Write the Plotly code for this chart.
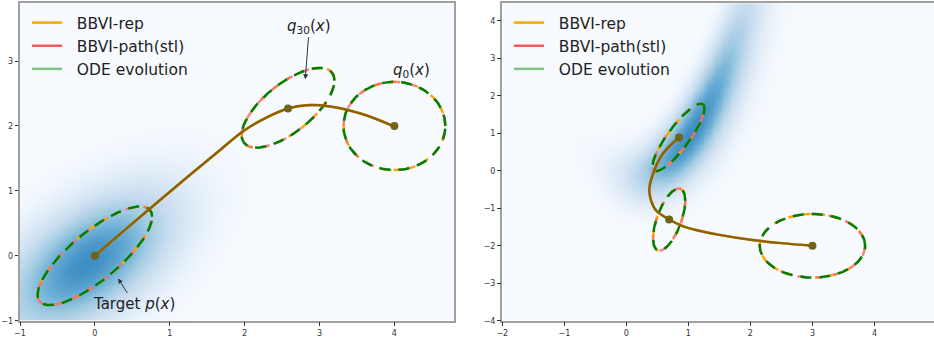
import numpy as np
import plotly.graph_objects as go

# ---------------- data ----------------
# Left panel: mean trajectory of q_t and its markers
L_traj_x = [4.0, 3.58, 3.14, 2.83, 2.58, 2.29, 1.98, 1.6, 1.2, 0.8, 0.4, 0.0]
L_traj_y = [1.99, 2.18, 2.30, 2.32, 2.27, 2.13, 1.92, 1.56, 1.18, 0.79, 0.40, 0.0]
L_mark_x = [4.0, 2.58, 0.0]
L_mark_y = [2.0, 2.27, 0.0]
# Left panel ellipses: q0, q30, target  (center, std x, std y, correlation)
L_ell_cx = [4.0, 2.58, 0.0]
L_ell_cy = [2.0, 2.28, 0.0]
L_ell_sx = [0.68, 0.62, 0.765]
L_ell_sy = [0.68, 0.615, 0.76]
L_ell_rho = [0.0, 0.68, 0.79]

# Right panel
R_traj_x = [3.0, 2.5, 2.0, 1.5, 1.12, 0.9, 0.69, 0.48, 0.40, 0.37, 0.43, 0.59, 0.85]
R_traj_y = [-2.0, -1.93, -1.84, -1.71, -1.58, -1.47, -1.30, -1.06, -0.80, -0.50, -0.08, 0.46, 0.89]
R_mark_x = [3.0, 0.69, 0.85]
R_mark_y = [-2.0, -1.30, 0.89]
R_ell_cx = [3.0, 0.69, 0.84]
R_ell_cy = [-2.0, -1.30, 0.89]
R_ell_sx = [0.85, 0.26, 0.42]
R_ell_sy = [0.85, 0.83, 0.90]
R_ell_rho = [0.0, 0.6, 0.86]

# Target densities (parameters)
L_mu = [-0.1, -0.1]
L_cov = [[0.60, 0.32], [0.32, 0.56]]
R_ban_xmean, R_ban_xstd = 1.05, 0.68
R_ban_a, R_ban_c = 1.05, -0.15
R_ban_s0, R_ban_s1 = 0.55, 0.2

legend_names = ["BBVI-rep", "BBVI-path(stl)", "ODE evolution"]
legend_colors = ["#ffa500", "rgba(255,60,60,0.85)", "rgba(80,170,80,0.7)"]

L_xrange = [-1, 4.8]
L_yrange = [-1, 3.89]
R_xrange = [-2, 4.96]
R_yrange = [-4, 4.47]

# ---------------- helpers ----------------
def ellipse(cx, cy, sx, sy, rho, phase=0.0, n=240):
    t = np.linspace(0, 2 * np.pi, n) + phase
    x = cx + sx * np.cos(t)
    y = cy + sy * (rho * np.cos(t) + np.sqrt(1 - rho ** 2) * np.sin(t))
    return x, y

blues = [[0.0, "#f7fbff"], [0.125, "#deebf7"], [0.25, "#c6dbef"], [0.375, "#9ecae1"],
         [0.5, "#6baed6"], [0.625, "#4292c6"], [0.75, "#2171b5"], [0.875, "#08519c"],
         [1.0, "#08306b"]]

fig = go.Figure()

# ---------------- densities ----------------
gx = np.linspace(L_xrange[0], L_xrange[1], 220)
gy = np.linspace(L_yrange[0], L_yrange[1], 200)
X, Y = np.meshgrid(gx, gy)
P = np.linalg.inv(np.array(L_cov))
dx, dy = X - L_mu[0], Y - L_mu[1]
ZL = np.exp(-0.5 * (P[0, 0] * dx * dx + 2 * P[0, 1] * dx * dy + P[1, 1] * dy * dy))
fig.add_trace(go.Heatmap(x=gx, y=gy, z=ZL, colorscale=blues, zmin=0, zmax=ZL.max() / 0.64,
                         showscale=False, zsmooth="best", hoverinfo="skip",
                         xaxis="x", yaxis="y"))

hx = np.linspace(R_xrange[0], R_xrange[1], 240)
hy = np.linspace(R_yrange[0], R_yrange[1], 260)
X2, Y2 = np.meshgrid(hx, hy)
sig = R_ban_s0 + R_ban_s1 * np.clip(X2, 0, None) ** 2
ZR = np.exp(-0.5 * ((X2 - R_ban_xmean) / R_ban_xstd) ** 2
            - 0.5 * ((Y2 - (R_ban_a * X2 ** 2 + R_ban_c)) / sig) ** 2)
fig.add_trace(go.Heatmap(x=hx, y=hy, z=ZR, colorscale=blues, zmin=0, zmax=ZR.max() / 0.64,
                         showscale=False, zsmooth="best", hoverinfo="skip",
                         xaxis="x2", yaxis="y2"))

# ---------------- ellipses ----------------
def add_ellipses(cxs, cys, sxs, sys_, rhos, xa, ya):
    for cx, cy, sx, sy, rho in zip(cxs, cys, sxs, sys_, rhos):
        ex, ey = ellipse(cx, cy, sx, sy, rho, phase=0.3)
        fig.add_trace(go.Scatter(x=ex, y=ey, mode="lines", showlegend=False, hoverinfo="skip",
                                 line=dict(color="#ffa500", width=2.5, dash="7px,8px"),
                                 xaxis=xa, yaxis=ya))
        ex, ey = ellipse(cx, cy, sx, sy, rho, phase=1.1)
        fig.add_trace(go.Scatter(x=ex, y=ey, mode="lines", showlegend=False, hoverinfo="skip",
                                 line=dict(color="rgba(245,110,110,0.85)", width=2.5, dash="8px,10px"),
                                 xaxis=xa, yaxis=ya))
        ex, ey = ellipse(cx, cy, sx, sy, rho, phase=0.0)
        fig.add_trace(go.Scatter(x=ex, y=ey, mode="lines", showlegend=False, hoverinfo="skip",
                                 line=dict(color="#008000", width=2.5, dash="11px,8px"),
                                 xaxis=xa, yaxis=ya))

add_ellipses(L_ell_cx, L_ell_cy, L_ell_sx, L_ell_sy, L_ell_rho, "x", "y")
add_ellipses(R_ell_cx, R_ell_cy, R_ell_sx, R_ell_sy, R_ell_rho, "x2", "y2")

# ---------------- trajectories ----------------
def add_traj(tx, ty, mx, my, xa, ya):
    for col in ["#ffa500", "rgba(255,0,0,0.4)", "rgba(0,100,0,0.45)"]:
        fig.add_trace(go.Scatter(x=tx, y=ty, mode="lines", showlegend=False, hoverinfo="skip",
                                 line=dict(color=col, width=2.5, shape="spline", smoothing=1.0),
                                 xaxis=xa, yaxis=ya))
    fig.add_trace(go.Scatter(x=mx, y=my, mode="markers", showlegend=False, hoverinfo="skip",
                             marker=dict(color="#6e6414", size=8), xaxis=xa, yaxis=ya))

add_traj(L_traj_x, L_traj_y, L_mark_x, L_mark_y, "x", "y")
add_traj(R_traj_x, R_traj_y, R_mark_x, R_mark_y, "x2", "y2")

# ---------------- legends ----------------
for lg, xa, ya in [("legend", "x", "y"), ("legend2", "x2", "y2")]:
    for name, col in zip(legend_names, legend_colors):
        fig.add_trace(go.Scatter(x=[None], y=[None], mode="lines", name="&nbsp;&nbsp;" + name,
                                 line=dict(color=col, width=2.5), legend=lg,
                                 xaxis=xa, yaxis=ya))

W, H = 934, 337
ydom = [(H - 320.7) / H, (H - 3.3) / H]
axis_common = dict(showgrid=False, zeroline=False, ticks="outside", ticklen=3.5, automargin=False,
                   tickcolor="#333", tickfont=dict(family="DejaVu Sans", size=8, color="#333"),
                   showline=True, linecolor="#a0a0a0", linewidth=1.5)

legend_common = dict(font=dict(family="DejaVu Sans", size=15.5, color="#222"),
                     bgcolor="rgba(0,0,0,0)", borderwidth=0, itemwidth=30,
                     xanchor="left", yanchor="top", tracegroupgap=0)

fig.update_layout(
    width=W, height=H, margin=dict(l=0, r=0, t=0, b=0, autoexpand=False),
    paper_bgcolor="white", plot_bgcolor="white",
    xaxis=dict(domain=[20 / W, 454.3 / W], range=L_xrange, tickvals=[-1, 0, 1, 2, 3, 4],
               mirror=True, anchor="y", **axis_common),
    yaxis=dict(domain=ydom, range=L_yrange, tickvals=[-1, 0, 1, 2, 3],
               mirror=True, anchor="x", **axis_common),
    xaxis2=dict(domain=[502.3 / W, 1.0], range=R_xrange, tickvals=[-2, -1, 0, 1, 2, 3, 4],
                mirror=True, anchor="y2", **axis_common),
    yaxis2=dict(domain=ydom, range=R_yrange, tickvals=[-4, -3, -2, -1, 0, 1, 2, 3, 4],
                mirror=False, anchor="x2", **axis_common),
    legend=dict(x=27 / W, y=(H - 6) / H, **legend_common),
    legend2=dict(x=509 / W, y=(H - 6) / H, **legend_common),
    annotations=[
        dict(text="<i>q</i><sub>30</sub>(<i>x</i>)", x=2.81, y=2.72, xref="x", yref="y",
             ax=4, ay=-53, showarrow=True, arrowhead=2, arrowsize=1, arrowwidth=1,
             arrowcolor="#333", font=dict(family="DejaVu Sans", size=15, color="#222")),
        dict(text="<i>q</i><sub>0</sub>(<i>x</i>)", x=4.23, y=2.85, xref="x", yref="y",
             showarrow=False, font=dict(family="DejaVu Sans", size=15, color="#222")),
        dict(text="Target <i>p</i>(<i>x</i>)", x=0.31, y=-0.35, xref="x", yref="y",
             ax=16, ay=25, showarrow=True, arrowhead=2, arrowsize=1, arrowwidth=1,
             arrowcolor="#333", font=dict(family="DejaVu Sans", size=15, color="#222")),
    ],
)

fig.write_html("out.html")
